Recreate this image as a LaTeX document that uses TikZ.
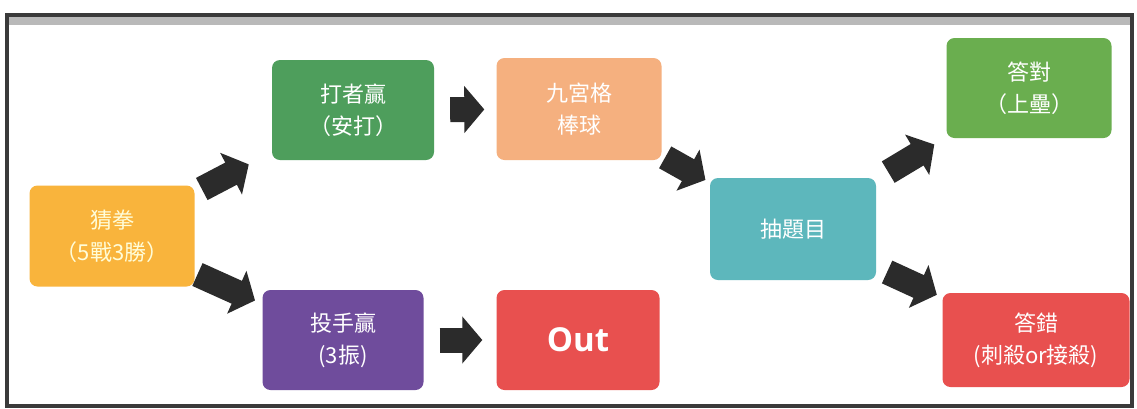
\documentclass[tikz,border=0pt]{standalone}
\usepackage{fontspec}
\newfontfamily\cjk{Noto Sans CJK TC}
\newfontfamily\latf{Open Sans}
\usetikzlibrary{arrows.meta}
\definecolor{cOrange}{HTML}{F9B43C}
\definecolor{cGreen}{HTML}{4E9E5C}
\definecolor{cSalmon}{HTML}{F5B07F}
\definecolor{cGreenB}{HTML}{6AAE4F}
\definecolor{cTeal}{HTML}{5DB7BC}
\definecolor{cPurple}{HTML}{6F4C9C}
\definecolor{cRed}{HTML}{E8504F}
\definecolor{cArrow}{HTML}{2B2B2B}
\definecolor{cFrame}{HTML}{3A3A3A}
\tikzset{
  box/.style={rounded corners=8pt, text=white, align=center, inner sep=0pt,
    font=\cjk\fontsize{22}{32}\selectfont},
  blk/.style={draw=cArrow, line width=25pt,
    -{Triangle[width=46pt,length=20pt]}},
}
\begin{document}
\begin{tikzpicture}[x=1pt,y=-1pt]
\useasboundingbox (0,0) rectangle (1137,408);
\fill[white] (0,0) rectangle (1137,408);
% frame
\fill[gray!55] (8,16) rectangle (1132,25);
\draw[cFrame, line width=3.5pt] (7,15) rectangle (1132,406);
% nodes
\node[box, fill=cOrange, text=yellow!15, minimum width=165pt, minimum height=101pt] (cq) at (112,236) {猜拳\\（5戰3勝）};
\node[box, fill=cGreen, minimum width=162pt, minimum height=100pt] (dz) at (353,110) {打者贏\\（安打）};
\node[box, fill=cSalmon, minimum width=165pt, minimum height=102pt] (jg) at (579,109) {九宮格\\棒球};
\node[box, fill=cGreenB, minimum width=165pt, minimum height=100pt] (dd) at (1029,88) {答對\\（上壘）};
\node[box, fill=cTeal, minimum width=166pt, minimum height=102pt] (ct) at (793,229) {抽題目};
\node[box, fill=cPurple, minimum width=161pt, minimum height=100pt] (ts) at (343,340) {投手贏\\(3振)};
\node[box, fill=cRed, minimum width=163pt, minimum height=100pt, font=\latf\bfseries\fontsize{33}{38}\selectfont] (out) at (578,340) {Out};
\node[box, fill=cRed, minimum width=187pt, minimum height=94pt] (dc) at (1036,340) {答錯\\(刺殺or接殺)};
% arrows
\draw[blk, shorten <=8pt, shorten >=26pt] (cq) -- (dz);
\draw[blk, shorten <=3pt, shorten >=8pt] (cq) -- (ts);
\draw[blk, shorten <=16pt, shorten >=12pt] (dz) -- (jg);
\draw[blk, shorten <=4pt, shorten >=5pt] (jg) -- (ct);
\draw[blk, shorten <=14pt, shorten >=14pt] (ct) -- (dd);
\draw[blk, shorten <=12pt, shorten >=6pt] (ct) -- (dc);
\draw[blk, shorten <=16pt, shorten >=14pt] (ts) -- (out);
\end{tikzpicture}
\end{document}
